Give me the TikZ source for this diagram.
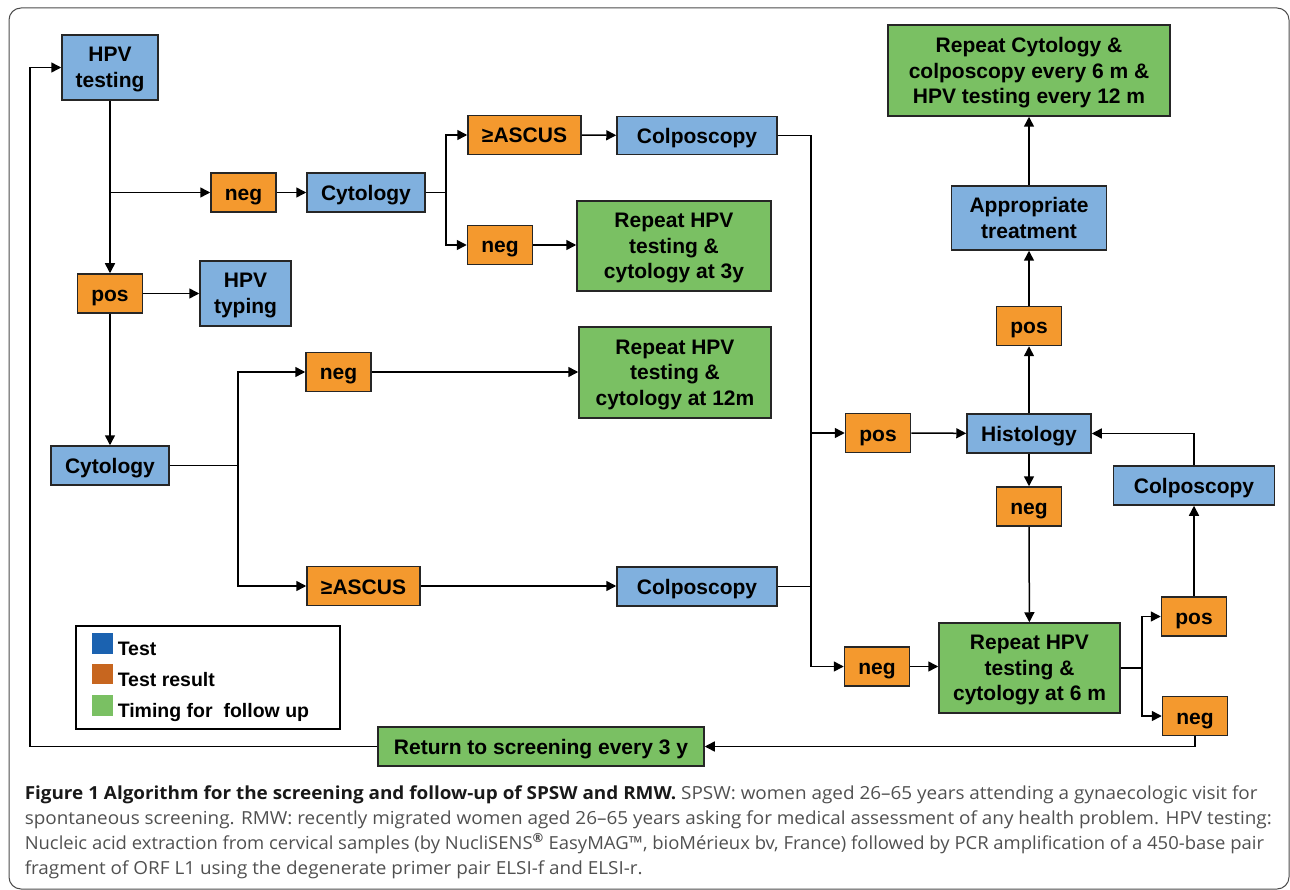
\documentclass[tikz,border=0pt]{standalone}
\usepackage{fontspec}
\setmainfont{Liberation Sans}
\newfontfamily\capfont[FakeStretch=1.05]{Open Sans}
\newfontfamily\capfontnarrow[FakeStretch=1.025]{Open Sans}
\usetikzlibrary{arrows.meta}

\definecolor{testblue}{RGB}{128,176,222}
\definecolor{resorange}{RGB}{244,153,46}
\definecolor{timegreen}{RGB}{122,192,99}
\definecolor{legblue}{RGB}{27,98,176}
\definecolor{legorange}{RGB}{199,102,31}
\definecolor{capgray}{RGB}{80,80,80}

\begin{document}
\begin{tikzpicture}[x=1pt, y=-1pt, line width=1.5pt, line join=miter,
    box/.style={draw=black!85, line width=1.5pt, align=center, inner sep=0pt, text depth=0pt, font=\fontsize{21}{25.5}\selectfont\bfseries},
    oneline/.style={text height=16pt},
    test/.style={box, fill=testblue},
    result/.style={box, oneline, fill=resorange, minimum width=65pt, minimum height=39pt},
    timing/.style={box, fill=timegreen},
    arr/.style={-{Triangle[length=10pt, width=10pt]}},
    capline/.style={anchor=base west, inner sep=0pt, text=capgray, font=\capfont\fontsize{18}{25}\selectfont}]
    \useasboundingbox (0,0) rectangle (1290,890);
    \draw[black!70, line width=1pt, rounded corners=12pt] (9,8) rectangle (1289,889);

    % screening branch
    \node[test, minimum width=96pt, minimum height=65pt] (hpvt) at (110,67.5) {HPV\\testing};
    \node[result] (neg1) at (243.5,192.5) {neg};
    \node[test, oneline, minimum width=118pt, minimum height=39pt] (cyt1) at (366,192.5) {Cytology};
    \node[result] (pos1) at (110,293.5) {pos};
    \node[test, minimum width=91pt, minimum height=65pt] (typ) at (245.5,293.5) {HPV\\typing};
    \node[result, minimum width=113pt] (asc1) at (524.5,135) {≥ASCUS};
    \node[test, oneline, minimum width=160pt, minimum height=38pt] (col1) at (697,135.5) {Colposcopy};
    \node[result] (neg2) at (500,245) {neg};
    \node[timing, minimum width=194pt, minimum height=90pt] (rep3y) at (674,246) {Repeat HPV\\testing \&\\cytology at 3y};
    \node[test, oneline, minimum width=118pt, minimum height=39pt] (cyt2) at (110,465.5) {Cytology};
    \node[result] (neg3) at (338.5,372) {neg};
    \node[result, minimum width=113pt] (asc2) at (363.5,586) {≥ASCUS};
    \node[timing, minimum width=192pt, minimum height=91pt] (rep12m) at (675,372.5) {Repeat HPV\\testing \&\\cytology at 12m};
    \node[test, oneline, minimum width=160pt, minimum height=39pt] (col2) at (697,586.5) {Colposcopy};

    % follow up branch
    \node[timing, minimum width=282pt, minimum height=91pt] (repcyt) at (1029,70.5) {Repeat Cytology \&\\colposcopy every 6 m \&\\HPV testing every 12 m};
    \node[test, minimum width=155pt, minimum height=64pt] (treat) at (1029,218) {Appropriate\\treatment};
    \node[result] (pos4) at (1029,326) {pos};
    \node[result] (pos2) at (878,433) {pos};
    \node[test, oneline, minimum width=124pt, minimum height=39pt] (hist) at (1029,433.5) {Histology};
    \node[result] (neg4) at (1029,506.5) {neg};
    \node[test, oneline, minimum width=161pt, minimum height=39pt] (col3) at (1194,485.5) {Colposcopy};
    \node[result] (neg5) at (877,666.5) {neg};
    \node[timing, minimum width=181pt, minimum height=90pt] (rep6m) at (1029.5,668) {Repeat HPV\\testing \&\\cytology at 6 m};
    \node[result] (pos3) at (1194,616.5) {pos};
    \node[result] (neg6) at (1195,716) {neg};
    \node[timing, oneline, minimum width=326pt, minimum height=39pt] (ret) at (541,746.5) {Return to screening every 3 y};

    % forks
    \coordinate (leftrail) at (30,400);
    \coordinate (c1fork) at (446,192.5);
    \coordinate (c2fork) at (238,465.5);
    \coordinate (rail) at (811,433);
    \coordinate (r6fork) at (1142,668);

    \draw[arr] (ret.west) -| (leftrail) |- (hpvt.west);
    \draw[arr] (hpvt.south) -- (pos1.north);
    \draw[arr] (hpvt.south |- neg1.west) -- (neg1.west);
    \draw[arr] (neg1) -- (cyt1);
    \draw (cyt1.east) -- (c1fork);
    \draw[arr] (c1fork) |- (asc1.west);
    \draw[arr] (c1fork) |- (neg2.west);
    \draw[arr] (asc1) -- (col1);
    \draw[arr] (neg2) -- (neg2 -| rep3y.west);
    \draw[arr] (pos1) -- (typ);
    \draw[arr] (pos1.south) -- (cyt2.north);
    \draw (cyt2.east) -- (c2fork);
    \draw[arr] (c2fork) |- (neg3.west);
    \draw[arr] (c2fork) |- (asc2.west);
    \draw[arr] (neg3) -- (neg3 -| rep12m.west);
    \draw[arr] (asc2) -- (asc2 -| col2.west);
    \draw[arr] (col1.east) -| (rail |- neg5.west) -- (neg5.west);
    \draw (col2.east) -- (rail |- col2.east);
    \draw[arr] (rail) -- (pos2.west);
    \draw[arr] (pos2) -- (hist);
    \draw[arr] (hist) -- (pos4);
    \draw[arr] (pos4) -- (treat);
    \draw[arr] (treat) -- (repcyt);
    \draw[arr] (hist) -- (neg4);
    \draw[arr] (neg4) -- (rep6m);
    \draw[arr] (neg5) -- (neg5 -| rep6m.west);
    \draw (rep6m.east) -- (r6fork);
    \draw[arr] (r6fork) |- (pos3.west);
    \draw[arr] (r6fork) |- (neg6.west);
    \draw[arr] (pos3) -- (col3);
    \draw[arr] (col3.north) |- (hist.east);
    \draw[arr] (neg6.south) |- (ret.east);

    % legend
    \node[draw, line width=1.3pt, minimum width=264pt, minimum height=103pt] (legend) at (208,677.5) {};
    \fill[legblue] (92,633) rectangle (113,654);
    \fill[legorange] (92,664) rectangle (113,684);
    \fill[timegreen] (92,695) rectangle (113,716);
    \node[anchor=base west, inner sep=0pt, font=\fontsize{19.5}{22}\selectfont\bfseries] (legtest) at (117,655) {Test};
    \node[anchor=base west, inner sep=0pt, font=\fontsize{19.5}{22}\selectfont\bfseries] (legres) at (117,686) {Test result};
    \node[anchor=base west, inner sep=0pt, font=\fontsize{19.5}{22}\selectfont\bfseries] (legtime) at (117,717) {Timing for~ follow up};

    % caption
    \node[capline] (cap1) at (24,799) {{\bfseries\color{black!90}Figure 1 Algorithm for the screening and follow-up of SPSW and RMW.} SPSW: women aged 26–65 years attending a gynaecologic visit for};
    \node[capline] (cap2) at (24,824) {spontaneous screening. RMW: recently migrated women aged 26–65 years asking for medical assessment of any health problem. HPV testing:};
    \node[capline, font=\capfontnarrow\fontsize{18}{25}\selectfont] (cap3) at (24,849) {Nucleic acid extraction from cervical samples (by NucliSENS\textsuperscript{\bfseries ®} EasyMAG™, bioMérieux bv, France) followed by PCR amplification of a 450-base pair};
    \node[capline] (cap4) at (24,874) {fragment of ORF L1 using the degenerate primer pair ELSI-f and ELSI-r.};
\end{tikzpicture}
\end{document}
